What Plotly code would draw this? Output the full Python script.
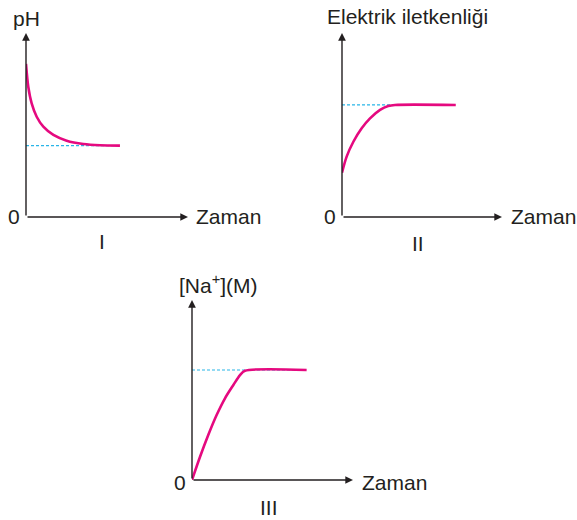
import plotly.graph_objects as go

# ---- data (arbitrary units: time 0-10, quantity 0-10) ----
# Graph I: pH vs time
t_ph = [0.0, 0.14, 0.35, 0.66, 1.07, 1.69, 2.51, 3.54, 4.57, 5.80]
v_ph = [8.32, 7.08, 6.18, 5.45, 4.91, 4.46, 4.15, 3.97, 3.90, 3.88]

# Graph II: electrical conductivity vs time
t_ec = [0.0, 0.29, 0.71, 1.23, 1.75, 2.38, 2.89, 3.31, 7.11]
v_ec = [2.41, 3.28, 4.09, 4.82, 5.36, 5.82, 6.03, 6.09, 6.09]

# Graph III: [Na+] vs time
t_na = [0.0, 0.50, 1.01, 1.53, 2.05, 2.57, 2.98, 3.29, 7.12]
v_na = [0.0, 1.29, 2.50, 3.61, 4.54, 5.28, 5.83, 6.07, 6.11]

y_titles = ["pH", "Elektrik iletkenliği", "[Na<sup>+</sup>](M)"]
x_title = "Zaman"
panel_names = ["I", "II", "III"]

W, H = 577, 520
CURVE = "#e5097f"
DASH = "#29b5e8"
INK = "#231f20"
FONT = "Liberation Sans, Arial, sans-serif"


def px(x):
    return x / W


def py(y):
    return 1 - y / H


fig = go.Figure()

# axis boxes in pixels: (left, right, top, bottom)
boxes = [(26, 188, 33, 217), (342, 502, 33, 217), (192, 353, 300, 480)]
series = [(t_ph, v_ph), (t_ec, v_ec), (t_na, v_na)]

for i, ((l, r, t, b), (ts, vs)) in enumerate(zip(boxes, series)):
    n = "" if i == 0 else str(i + 1)
    xa, ya = "x" + n, "y" + n
    ax_common = dict(range=[0, 10], showgrid=False, zeroline=False,
                     showticklabels=False, showline=False, ticks="",
                     fixedrange=True)
    fig.update_layout(**{
        "xaxis" + n: dict(domain=[px(l), px(r)], anchor=ya, **ax_common),
        "yaxis" + n: dict(domain=[py(b), py(t)], anchor=xa, **ax_common),
    })
    plateau = vs[-1]
    # dashed guide to the plateau level
    fig.add_trace(go.Scatter(x=[0, ts[-1]], y=[plateau, plateau], mode="lines",
                             line=dict(color=DASH, width=1.2, dash="3px,2px"),
                             xaxis=xa, yaxis=ya, hoverinfo="skip"))
    fig.add_trace(go.Scatter(x=ts, y=vs, mode="lines",
                             line=dict(color=CURVE, width=2.6, shape="spline",
                                       smoothing=0.8),
                             xaxis=xa, yaxis=ya, hoverinfo="skip"))
    # axis arrows
    for (x1, y1) in [(10, 0), (0, 10)]:
        fig.add_annotation(x=x1, y=y1, ax=0, ay=0, xref=xa, yref=ya,
                           axref=xa, ayref=ya, text="", showarrow=True,
                           arrowhead=2, arrowsize=1.1, arrowwidth=1.4,
                           arrowcolor=INK)

# text labels (pixel positions of centres)
labels = [
    (y_titles[0], 26.5, 19), ("0", 14, 216.5), (x_title, 228.5, 216),
    (panel_names[0], 102, 241),
    (y_titles[1], 407.5, 17), ("0", 330, 216.5), (x_title, 543.5, 216),
    (panel_names[1], 418, 243),
    (y_titles[2], 218.5, 284), ("0", 180, 482), (x_title, 394, 482),
    (panel_names[2], 269, 507),
]
for text, cx, cy in labels:
    fig.add_annotation(x=px(cx), y=py(cy), xref="paper", yref="paper",
                       text=text, showarrow=False, xanchor="center",
                       yanchor="middle",
                       font=dict(family=FONT, size=21, color=INK))

fig.update_layout(width=W, height=H, margin=dict(l=0, r=0, t=0, b=0),
                  paper_bgcolor="white", plot_bgcolor="white",
                  showlegend=False)

fig.write_html("out.html")
